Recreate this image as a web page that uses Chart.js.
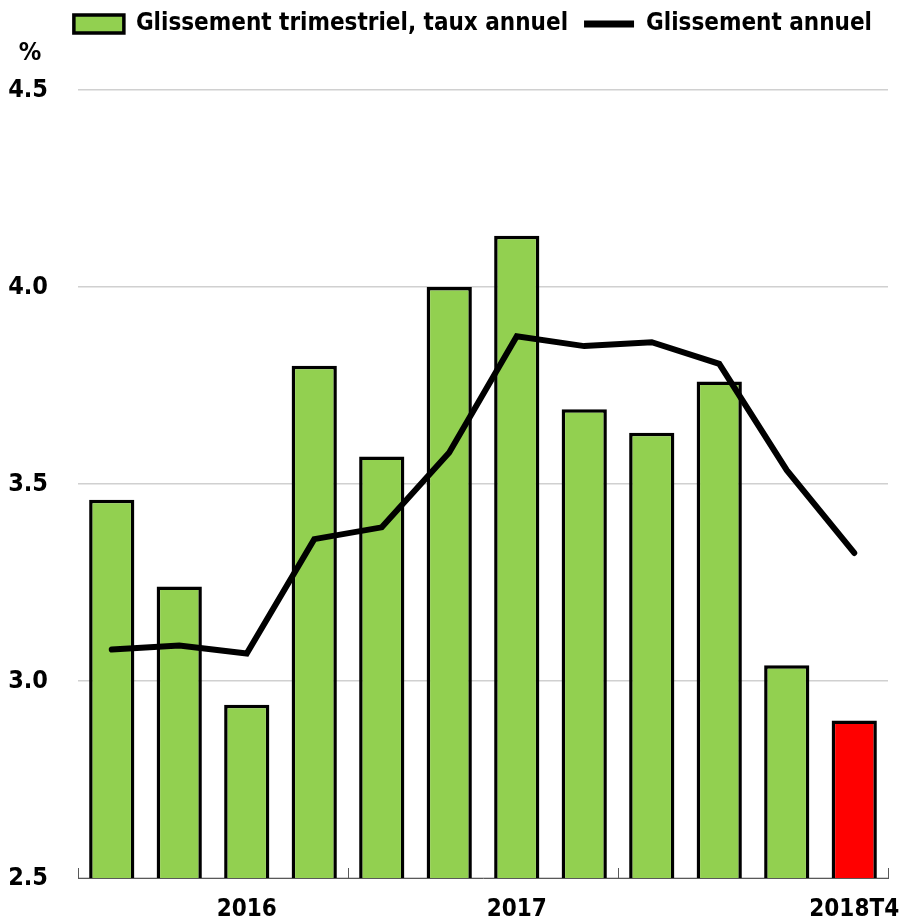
<!DOCTYPE html>
<html>
<head>
<meta charset="utf-8">
<script src="https://cdn.jsdelivr.net/npm/chart.js@4/dist/chart.umd.min.js"></script>
<style>
  body { margin: 0; background: #fff; }
  #wrap { width: 900px; height: 923px; }
</style>
</head>
<body>
<div id="wrap"><canvas id="salaires"></canvas></div>
<script>
// quarters, 2016T1 .. 2018T4
const quarters = ["", "", "2016", "", "", "", "2017", "", "", "", "", "2018T4"];
const trimestriel = [3.46, 3.24, 2.94, 3.80, 3.57, 4.00, 4.13, 3.69, 3.63, 3.76, 3.04, 2.90];
const annuel = [3.08, 3.09, 3.07, 3.36, 3.39, 3.58, 3.875, 3.85, 3.86, 3.805, 3.535, 3.325];
const yTicks = [2.5, 3.0, 3.5, 4.0, 4.5];

const font = "'Liberation Sans Narrow', 'DejaVu Sans Condensed', Arial, sans-serif";
const barColors = trimestriel.map((v, i) => i === trimestriel.length - 1 ? "#ff0000" : "#92d050");

// small upward ticks marking each year + the "%" unit above the y axis
const extras = {
  id: "extras",
  afterDraw(chart) {
    const ctx = chart.ctx;
    const x = chart.scales.x;
    const y = chart.scales.y;
    const area = chart.chartArea;
    const bounds = [area.left];
    for (let i = 4; i < quarters.length; i += 4) {
      bounds.push((x.getPixelForValue(i - 1) + x.getPixelForValue(i)) / 2);
    }
    bounds.push(area.right);
    ctx.save();
    ctx.strokeStyle = "#595959";
    ctx.lineWidth = 1;
    bounds.forEach(px => {
      ctx.beginPath();
      ctx.moveTo(Math.round(px) + 0.5, area.bottom);
      ctx.lineTo(Math.round(px) + 0.5, area.bottom - 10);
      ctx.stroke();
    });
    ctx.fillStyle = "#000";
    ctx.font = "bold 25px " + font;
    ctx.textAlign = "center";
    ctx.textBaseline = "middle";
    ctx.fillText("%", 30, y.getPixelForValue(4.5) - 37);
    ctx.restore();
  }
};

new Chart(document.getElementById("salaires"), {
  data: {
    labels: quarters,
    datasets: [
      {
        type: "line",
        label: "Glissement annuel",
        data: annuel,
        borderColor: "#000",
        backgroundColor: "#000",
        borderWidth: 6,
        borderCapStyle: "round",
        pointRadius: 0,
        tension: 0,
        xAxisID: "x",
        order: 0
      },
      {
        type: "bar",
        label: "Glissement trimestriel, taux annuel",
        data: trimestriel,
        backgroundColor: barColors,
        borderColor: "#000",
        borderWidth: 3.5,
        borderSkipped: false,
        barPercentage: 0.67,
        categoryPercentage: 1,
        xAxisID: "x",
        order: 1
      }
    ]
  },
  options: {
    responsive: true,
    maintainAspectRatio: false,
    animation: false,
    layout: { padding: { top: -4, right: 12, left: 0, bottom: 0 } },
    plugins: {
      tooltip: { enabled: false },
      legend: {
        position: "top",
        align: "end",
        labels: {
          color: "#000",
          font: { family: font, size: 24, weight: "bold" },
          boxWidth: 50,
          boxHeight: 18,
          usePointStyle: true,
          pointStyleWidth: 50,
          padding: 16,
          generateLabels(chart) {
            const items = Chart.defaults.plugins.legend.labels.generateLabels(chart);
            items.forEach(it => {
              if (it.datasetIndex === 1) {
                it.pointStyle = "rect";
                it.fillStyle = "#92d050";
                it.strokeStyle = "#000";
                it.lineWidth = 3.5;
              } else {
                it.pointStyle = "line";
                it.lineWidth = 7;
              }
            });
            return items.sort((a, b) => b.datasetIndex - a.datasetIndex);
          }
        }
      }
    },
    scales: {
      x: {
        offset: true,
        grid: { display: false, drawTicks: false },
        border: { display: true, color: "#595959", width: 1 },
        ticks: {
          color: "#000",
          font: { family: font, size: 24, weight: "bold" },
          autoSkip: false,
          maxRotation: 0,
          padding: 17
        },
        // let "2018T4" run into the right margin
        afterFit(scale) {
          scale.paddingRight = 0;
          scale.height = 44;
        }
      },
      // empty band between legend and plot
      top: {
        type: "category",
        position: "top",
        labels: quarters,
        display: true,
        grid: { display: false, drawTicks: false },
        border: { display: false },
        ticks: { display: false },
        afterFit(scale) { scale.height = 44; }
      },
      y: {
        min: 2.5,
        max: 4.5,
        afterBuildTicks(scale) {
          scale.ticks = yTicks.map(v => ({ value: v }));
        },
        afterFit(scale) { scale.width = 78; },
        grid: { color: "#d0d0d0", lineWidth: 1.5, drawTicks: false },
        border: { display: false },
        ticks: {
          color: "#000",
          font: { family: font, size: 25, weight: "bold" },
          padding: 30,
          callback: v => v.toFixed(1)
        }
      }
    }
  },
  plugins: [extras]
});
</script>
</body>
</html>
